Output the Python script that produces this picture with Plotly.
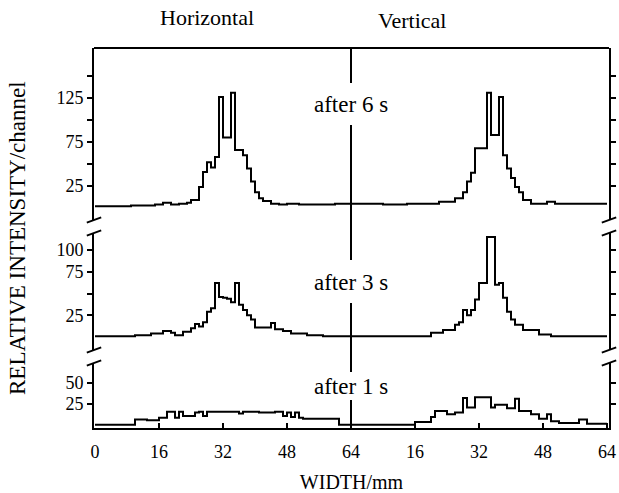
import plotly.graph_objects as go

# ---- data: relative intensity per 1-mm channel (64 channels per direction) ----
top_h = [2, 2, 2, 2, 2, 2, 2, 2, 2, 3, 3, 3, 3, 3, 3, 4, 4, 6, 6, 4, 4, 5, 5, 6,
         9, 9, 24, 41, 52, 46, 58, 126, 80, 80, 131, 66, 66, 60, 45, 30, 18, 11, 8, 8,
         5, 5, 4, 4, 5, 5, 5, 4, 4, 4, 4, 4, 4, 4, 4, 4, 5, 5, 5, 5]
top_v = [5, 5, 5, 5, 5, 5, 5, 5, 4, 4, 4, 4, 4, 4, 5, 5, 5, 5, 5, 5, 5, 5,
         7, 7, 7, 7, 11, 11, 18, 30, 40, 68, 68, 68, 131, 83, 83, 126, 60, 45, 34, 24, 18,
         9, 9, 5, 5, 5, 5, 7, 7, 5, 5, 5, 5, 5, 5, 5, 5, 5, 5, 5, 5, 5]
mid_h = [1, 1, 1, 1, 1, 1, 1, 1, 1, 1, 2, 2, 2, 2, 4, 4, 4, 7, 7, 5, 2, 2, 6, 6,
         10, 15, 12, 17, 29, 33, 62, 46, 45, 44, 40, 62, 37, 31, 25, 20, 11, 11, 11, 11,
         16, 9, 9, 7, 7, 4, 4, 4, 4, 2, 2, 2, 2, 1, 1, 1, 1, 1, 1, 1]
mid_v = [1, 1, 1, 1, 1, 1, 1, 1, 1, 1, 1, 1, 1, 1, 1, 1, 1, 1, 1, 1, 5, 5, 5,
         8, 8, 8, 14, 17, 31, 25, 31, 43, 62, 62, 115, 115, 60, 62, 45, 29, 20, 14, 14,
         8, 8, 8, 8, 3, 3, 3, 1, 1, 1, 1, 1, 1, 1, 1, 1, 1, 1, 1, 1, 1]
bot_h = [1, 1, 1, 1, 1, 1, 1, 1, 1, 1, 7, 7, 7, 6, 6, 6, 9, 9, 16, 16, 9, 16, 11, 11,
         11, 15, 16, 11, 16, 16, 16, 16, 16, 16, 16, 16, 14, 16, 16, 16, 16, 15, 15, 15,
         15, 16, 16, 11, 15, 10, 15, 9, 8, 8, 8, 8, 8, 8, 8, 8, 8, 1, 1, 1]
bot_v = [1, 1, 1, 1, 1, 1, 1, 1, 1, 1, 1, 1, 1, 1, 1, 1, 4, 4, 4, 4, 10, 17, 17, 17,
         13, 13, 15, 15, 32, 21, 21, 33, 33, 33, 33, 21, 24, 24, 24, 20, 20, 31, 17, 17,
         17, 13, 13, 8, 8, 13, 5, 5, 3, 3, 3, 3, 3, 7, 7, 2, 2, 2, 2, 2]

panel_labels = ["after 6 s", "after 3 s", "after 1 s"]
x_tickvals = [0, 16, 32, 48, 64, 80, 96, 112, 128]
x_ticktext = ["0", "16", "32", "48", "64", "16", "32", "48", "64"]
y_ticks_top = [25, 50, 75, 100, 125, 150]
y_text_top = ["25", "", "75", "", "125", ""]
y_ticks_mid = [25, 50, 75, 100]
y_text_mid = ["25", "", "75", "100"]
y_ticks_bot = [25, 50]
y_text_bot = ["25", "50"]

SERIF = "Liberation Serif"
LW = 2

panels = [(top_h, top_v), (mid_h, mid_v), (bot_h, bot_v)]
yrefs = ["y", "y2", "y3"]

fig = go.Figure()
for (h, v), yr in zip(panels, yrefs):
    vals = list(h) + list(v)
    vals = vals + [vals[-1]]
    xs = list(range(len(vals)))
    fig.add_trace(go.Scatter(x=xs, y=vals, mode="lines", line=dict(color="black", width=2, shape="hv"),
                             xaxis="x", yaxis=yr, showlegend=False, hoverinfo="skip"))

# pixel helpers for plot area (top 48, bottom 428)
def py(p):
    return (428 - p) / 380.0

domains = [[py(220), 1.0], [py(350), py(233)], [0.0, py(363)]]
ranges = [[-13.6, 181.8], [-14.9, 119.5], [-2.9, 72.7]]
tvals = [y_ticks_top, y_ticks_mid, y_ticks_bot]
ttext = [y_text_top, y_text_mid, y_text_bot]

layout = dict(
    width=619, height=493,
    margin=dict(l=94, r=10, t=48, b=65, autoexpand=False),
    paper_bgcolor="white", plot_bgcolor="white",
    font=dict(family=SERIF, color="black"),
    showlegend=False,
    xaxis=dict(range=[-0.25, 128.5], domain=[0, 1], anchor="y3", automargin=False,
               showline=True, linecolor="black", linewidth=LW,
               ticks="inside", ticklen=5, tickwidth=LW, tickcolor="black",
               tickvals=x_tickvals, ticktext=x_ticktext, ticklabeloverflow="allow",
               tickfont=dict(family=SERIF, size=18), ticklabelstandoff=6,
               showgrid=False, zeroline=False,
               title=dict(text="WIDTH/mm", font=dict(family=SERIF, size=20), standoff=16)),
)
names = ["yaxis", "yaxis2", "yaxis3"]
for i in range(3):
    layout[names[i]] = dict(domain=domains[i], range=ranges[i], anchor="x", automargin=False,
                            showline=True, linecolor="black", linewidth=LW, mirror="allticks",
                            ticks="outside", ticklen=5, tickwidth=LW, tickcolor="black",
                            tickvals=tvals[i], ticktext=ttext[i],
                            tickfont=dict(family=SERIF, size=18),
                            showgrid=False, zeroline=False)
    # overlay axis to make ticks cross the axis line
    layout["yaxis%d" % (i + 4)] = dict(overlaying=yrefs[i], range=ranges[i], anchor="x",
                                       automargin=False,
                                       showline=True, linecolor="black", linewidth=LW,
                                       mirror="allticks",
                                       ticks="inside", ticklen=5, tickwidth=LW, tickcolor="black",
                                       tickvals=tvals[i], showticklabels=False,
                                       showgrid=False, zeroline=False)
fig.update_layout(**layout)

shapes = []
# top frame line
shapes.append(dict(type="line", xref="paper", yref="paper", x0=0, x1=1, y0=1, y1=1,
                   line=dict(color="black", width=LW)))
# central divider at 64 mm, interrupted by labels
for a, b in [(48, 83), (125, 260), (303, 372), (400, 428)]:
    shapes.append(dict(type="line", xref="x", yref="paper", x0=64, x1=64, y0=py(b), y1=py(a),
                       line=dict(color="black", width=LW)))
# axis break marks
for yp in [220, 233, 350, 363]:
    for xp in [0.0, 1.0]:
        shapes.append(dict(type="line", xref="paper", yref="paper",
                           x0=xp - 0.014, x1=xp + 0.014, y0=py(yp) - 0.007, y1=py(yp) + 0.007,
                           line=dict(color="black", width=LW)))
fig.update_layout(shapes=shapes)

ann = []
for lab, p in zip(panel_labels, [104, 282, 386]):
    ann.append(dict(text=lab, xref="x", yref="paper", x=64, y=py(p), showarrow=False,
                    font=dict(family=SERIF, size=23), xanchor="center", yanchor="middle"))
ann.append(dict(text="Horizontal", xref="paper", yref="paper", x=(207 - 94) / 515, y=py(18),
                showarrow=False, font=dict(family=SERIF, size=22), xanchor="center", yanchor="middle"))
ann.append(dict(text="Vertical", xref="paper", yref="paper", x=(412 - 94) / 515, y=py(21),
                showarrow=False, font=dict(family=SERIF, size=22), xanchor="center", yanchor="middle"))
ann.append(dict(text="RELATIVE INTENSITY/channel", xref="paper", yref="paper",
                x=(17 - 94) / 515, y=0.5, textangle=-90, showarrow=False,
                font=dict(family=SERIF, size=23), xanchor="center", yanchor="middle"))
fig.update_layout(annotations=ann)

fig.write_html("out.html", config={"displayModeBar": False},
               post_script="document.body.style.margin='0';")
